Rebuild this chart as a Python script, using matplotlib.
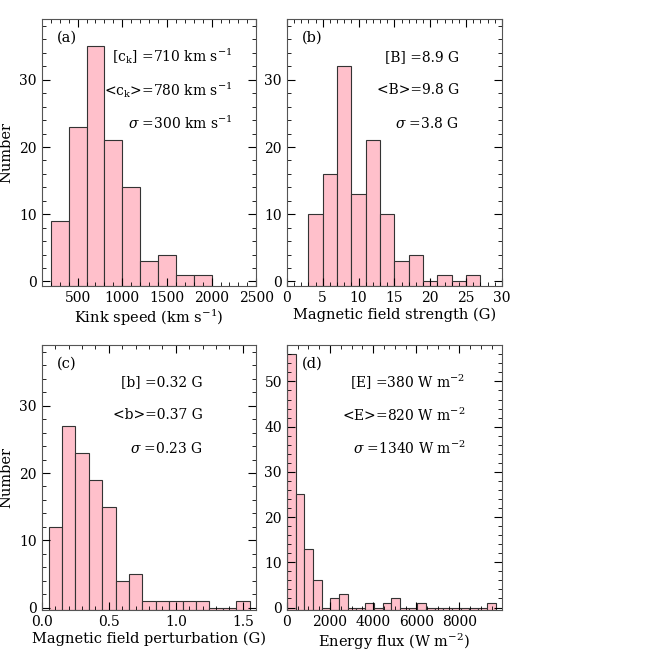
import numpy as np
import matplotlib
matplotlib.use('Agg')
import matplotlib.pyplot as plt
from matplotlib.ticker import AutoMinorLocator

plt.rcParams['font.family'] = 'DejaVu Serif'
plt.rcParams['mathtext.fontset'] = 'dejavuserif'

# bin left edges / width / counts
a_start, a_width = 200, 200
a_counts = [9, 23, 35, 21, 14, 3, 4, 1, 1]
b_start, b_width = 3, 2
b_counts = [10, 16, 32, 13, 21, 10, 3, 4, 0, 1, 0, 1]
c_start, c_width = 0.05, 0.1
c_counts = [12, 27, 23, 19, 15, 4, 5, 1, 1, 1, 1, 1, 0, 0, 1]
d_start, d_width = 0, 403
d_counts = [56, 25, 13, 6, 0, 2, 3, 0, 0, 1, 0, 1, 2, 0, 0, 1, 0, 0, 0, 0, 0, 0, 0, 1]

panels = [
    ("(a)", a_start, a_width, a_counts, (100, 2500), (-0.7, 39), [500, 1000, 1500, 2000, 2500],
     r"Kink speed (km s$^{-1}$)",
     [r"[c$_\mathrm{k}$] =710 km s$^{-1}$", r"<c$_\mathrm{k}$>=780 km s$^{-1}$", r"$\sigma$ =300 km s$^{-1}$"]),
    ("(b)", b_start, b_width, b_counts, (0, 30), (-0.7, 39), [0, 5, 10, 15, 20, 25, 30],
     "Magnetic field strength (G)",
     ["[B] =8.9 G", "<B>=9.8 G", r"$\sigma$ =3.8 G"]),
    ("(c)", c_start, c_width, c_counts, (0, 1.6), (-0.4, 39), [0.0, 0.5, 1.0, 1.5],
     "Magnetic field perturbation (G)",
     ["[b] =0.32 G", "<b>=0.37 G", r"$\sigma$ =0.23 G"]),
    ("(d)", d_start, d_width, d_counts, (0, 9970), (-0.6, 58), [0, 2000, 4000, 6000, 8000],
     r"Energy flux (W m$^{-2}$)",
     [r"[E] =380 W m$^{-2}$", r"<E>=820 W m$^{-2}$", r"$\sigma$ =1340 W m$^{-2}$"]),
]
text_x = [0.89, 0.80, 0.75, 0.83]

fig = plt.figure(figsize=(6.64, 6.64), dpi=100)
rects = [(0.063, 0.569, 0.323, 0.402), (0.432, 0.569, 0.324, 0.402),
         (0.063, 0.081, 0.323, 0.399), (0.432, 0.081, 0.324, 0.399)]
for i, (lab, start, width, counts, xl, yl, xt, xlabel, txt) in enumerate(panels):
    ax = fig.add_axes(rects[i])
    left = start + width * np.arange(len(counts))
    ax.bar(left, np.array(counts) - yl[0], width=width, bottom=yl[0], align='edge',
           color='pink', edgecolor='#333333', linewidth=0.8)
    ax.set_xlim(*xl)
    ax.set_ylim(*yl)
    ax.set_xticks(xt)
    if i == 2:
        ax.set_xticklabels(["0.0", "0.5", "1.0", "1.5"])
    ax.set_yticks([0, 10, 20, 30] if i < 3 else [0, 10, 20, 30, 40, 50])
    ax.xaxis.set_minor_locator(AutoMinorLocator(5 if i != 3 else 4))
    ax.yaxis.set_minor_locator(AutoMinorLocator(5))
    ax.tick_params(which='both', direction='in', top=True, right=True, labelsize=10)
    ax.tick_params(which='major', length=6)
    ax.tick_params(which='minor', length=3)
    for s in ax.spines.values():
        s.set_color('#555555')
    ax.set_xlabel(xlabel, fontsize=10.5, labelpad=2)
    if i in (0, 2):
        ax.set_ylabel("Number", fontsize=10.5, labelpad=4)
    ax.text(0.07, 0.93, lab, transform=ax.transAxes, fontsize=10.5, va='center')
    for k, t in enumerate(txt):
        ax.text(text_x[i], 0.86 - 0.125 * k, t, transform=ax.transAxes,
                fontsize=10, va='center', ha='right')

fig.savefig("out.png", dpi=100)
